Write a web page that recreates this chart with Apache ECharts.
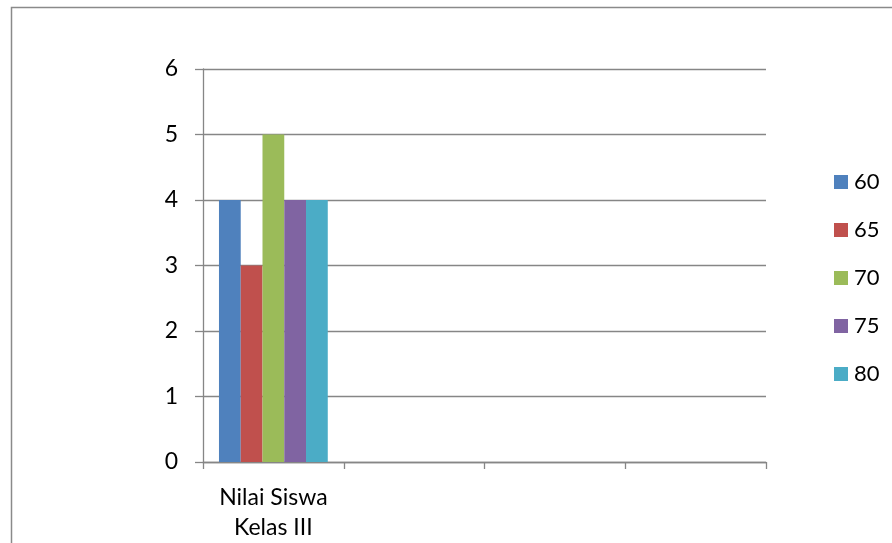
<!DOCTYPE html>
<html>
<head>
<meta charset="utf-8">
<script src="https://cdn.jsdelivr.net/npm/echarts@6/dist/echarts.min.js"></script>
<style>
  html, body { margin: 0; padding: 0; background: #ffffff; }
  #chart { width: 892px; height: 543px; }
</style>
</head>
<body>
<div id="chart"></div>
<script>
// Category slots along the x axis (only the first one holds data)
const categories = ['Nilai Siswa\nKelas III', '', '', ''];

// Score groups and the number of students in each
const seriesNames = ['60', '65', '70', '75', '80'];
const seriesValues = [4, 3, 5, 4, 4];
const seriesColors = ['#4F81BD', '#C0504D', '#9BBB59', '#8064A2', '#4BACC6'];

// Value axis ticks
const yTicks = [0, 1, 2, 3, 4, 5, 6];

const FONT = 'Lato, "Open Sans", sans-serif';
const FONT_SIZE = 23;
const GRID_COLOR = '#868686';

const chart = echarts.init(document.getElementById('chart'), null, { renderer: 'canvas' });

const series = seriesNames.map((name, i) => ({
  name: name,
  type: 'bar',
  data: categories.map((c, j) => (j === 0 ? seriesValues[i] : null)),
  itemStyle: { color: seriesColors[i] },
  barGap: '0%',
  barCategoryGap: '22.7%',
  animation: false
}));

chart.setOption({
  backgroundColor: '#ffffff',
  animation: false,
  graphic: [{
    type: 'rect',
    shape: { x: 11.5, y: 7.5, width: 900, height: 560 },
    style: { fill: 'none', stroke: '#8a8a8a', lineWidth: 1.5 },
    silent: true,
    z: -1
  }],
  grid: { left: 203, top: 69, right: 126, bottom: 81, containLabel: false },
  legend: {
    orient: 'vertical',
    left: 829,
    top: 166,
    itemWidth: 14,
    itemHeight: 14,
    itemGap: 26,
    icon: 'rect',
    data: seriesNames,
    textStyle: { fontFamily: FONT, fontSize: 22, color: '#000', lineHeight: 20, padding: [0, 0, 0, 1] }
  },
  xAxis: {
    type: 'category',
    data: categories,
    boundaryGap: true,
    axisLine: { show: true, lineStyle: { color: GRID_COLOR, width: 1.3 } },
    axisTick: { show: true, length: 7, alignWithLabel: false, lineStyle: { color: GRID_COLOR, width: 1.3 } },
    axisLabel: { fontFamily: FONT, fontSize: FONT_SIZE, color: '#000', lineHeight: 30, margin: 21, interval: 0 },
    splitLine: { show: false }
  },
  yAxis: {
    type: 'value',
    min: yTicks[0],
    max: yTicks[yTicks.length - 1],
    interval: 1,
    axisLine: { show: true, lineStyle: { color: GRID_COLOR, width: 1.3 } },
    axisTick: { show: true, length: 8, lineStyle: { color: GRID_COLOR, width: 1.3 } },
    axisLabel: { fontFamily: FONT, fontSize: FONT_SIZE, color: '#000', margin: 25 },
    splitLine: { show: true, lineStyle: { color: GRID_COLOR, width: 1.3 } }
  },
  series: series
});
</script>
</body>
</html>
